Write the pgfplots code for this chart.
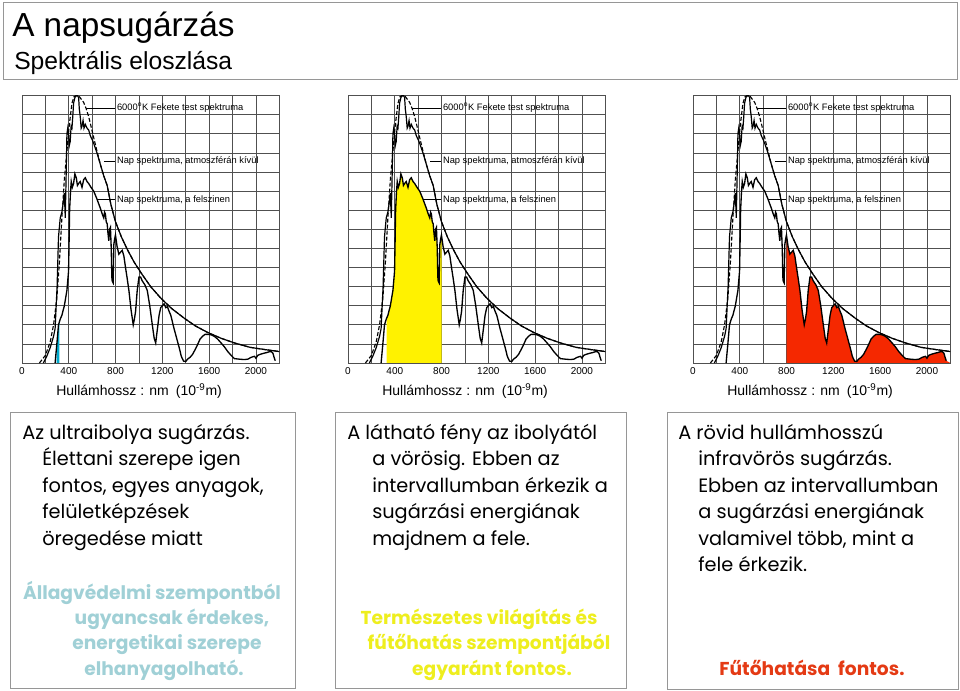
\documentclass[border=0pt]{standalone}
\usepackage{fontspec}
\setmainfont{Liberation Sans}
\newfontfamily\cg{Poppins}
\usepackage{pgfplots}
\pgfplotsset{compat=1.18}
\usepackage{pgfplotstable}
\usepgfplotslibrary{fillbetween}
\definecolor{gridc}{RGB}{80,80,80}
\definecolor{tealc}{RGB}{160,208,214}
\definecolor{yelc}{RGB}{238,238,30}
\definecolor{redc}{RGB}{228,58,20}
\definecolor{fillred}{RGB}{245,40,0}
\definecolor{fillcyan}{RGB}{0,170,205}
\definecolor{boxc}{RGB}{150,150,150}

\pgfplotstableread{
x y
149 0
200 0.4
241 1.1
270 2.0
298 3.4
320 5.3
341 7.6
362 9.6
384 11.1
405 12.5
427 13.6
445 13.95
464 14.0
490 13.95
527 13.65
550 13.3
570 12.9
590 12.4
613 11.8
641 11.1
670 10.4
699 9.8
728 9.3
760 8.3
799 7.4
850 6.6
900 5.95
957 5.3
1020 4.7
1100 4.0
1186 3.4
1280 2.85
1386 2.35
1480 1.95
1587 1.6
1700 1.3
1816 1.05
1950 0.82
2080 0.7
2200 0.6
}\bb

\pgfplotstableread{
x y
183 0
215 0.4
241 0.8
270 1.4
283 1.8
300 4.0
312 6.6
327 7.6
341 7.9
355 8.5
362 8.9
370 7.6
378 10.0
384 12.0
391 12.3
398 12.0
405 11.4
412 11.6
420 12.4
427 12.3
434 12.9
441 13.6
452 13.9
464 14.0
475 14.0
484 13.9
490 13.3
498 12.9
506 12.3
513 12.4
522 12.7
530 12.3
541 12.5
556 12.3
570 12.2
584 11.9
600 11.7
613 11.5
641 11.0
670 10.4
699 9.8
728 9.3
760 8.3
799 7.4
850 6.6
900 5.95
957 5.3
1020 4.7
1100 4.0
1186 3.4
1280 2.85
1386 2.35
1480 1.95
1587 1.6
1700 1.3
1816 1.05
1950 0.82
2080 0.7
2200 0.6
}\outside

\pgfplotstableread{
x y
283 0
298 1.0
312 2.0
327 2.3
341 2.5
362 3.0
384 3.8
398 4.8
403 6.5
407 8.0
414 8.9
421 9.5
430 9.2
441 9.4
452 9.9
464 9.7
474 9.3
484 9.4
498 9.5
513 9.2
527 9.6
541 9.7
556 9.5
570 9.4
590 9.2
613 9.0
640 8.6
670 8.1
686 7.8
699 7.6
706 7.9
713 7.8
720 7.4
728 7.3
735 6.8
742 6.4
749 7.0
756 7.1
763 6.0
768 4.5
771 4.3
779 4.2
785 6.2
792 6.5
799 6.7
813 6.1
828 5.7
842 5.8
857 5.9
871 5.6
885 5.0
900 4.4
914 3.8
932 2.8
951 2.0
961 2.3
971 2.7
985 3.8
1000 4.5
1014 4.5
1028 4.3
1050 4.1
1071 3.8
1092 3.0
1114 2.0
1130 1.3
1143 1.05
1158 1.8
1172 2.5
1186 2.9
1200 3.0
1215 3.1
1229 2.9
1243 2.95
1258 2.7
1272 2.5
1300 1.8
1322 1.3
1344 0.8
1362 0.35
1381 0.1
1400 0.08
1415 0.2
1437 0.3
1458 0.45
1480 0.7
1501 0.96
1522 1.25
1544 1.4
1565 1.5
1587 1.5
1615 1.48
1644 1.4
1673 1.25
1702 1.05
1730 0.85
1759 0.6
1788 0.4
1816 0.23
1860 0.2
1900 0.18
1931 0.2
1960 0.3
1988 0.35
2000 0.25
2015 0.4
2031 0.44
2050 0.48
2074 0.52
2095 0.55
2118 0.6
2135 0.58
2146 0.5
2155 0.3
2165 0.12
}\surf

\pgfplotsset{
  spec/.style={
    scale only axis, width=193pt, height=200.5pt,
    xmin=0, xmax=2200, ymin=0, ymax=14,
    xtick={0,400,...,2000}, minor xtick={200,600,...,2200},
    ytick={0,1,...,14}, yticklabels={},
    grid=both,
    major grid style={gridc, line width=0.6pt},
    minor grid style={gridc, line width=0.6pt},
    major tick length=0pt, minor tick length=0pt,
    axis line style={gridc, line width=0.65pt},
    /pgf/number format/1000 sep={},
    /pgf/number format/assume math mode=true,
    xticklabel style={font=\fontsize{7.5}{8}\selectfont, inner sep=1pt, yshift=-2pt},
    clip=false,
  },
}
\tikzset{ann/.style={font=\fontsize{7}{8}\selectfont, anchor=west, inner sep=0pt}}

\newcommand{\curves}{%
  \addplot[black, line width=0.85pt, dash pattern=on 3pt off 1.5pt] table {\bb};
  \addplot[black, line width=0.9pt] table {\outside};
  \addplot[black, line width=1pt] table {\surf};
  \draw[black, line width=0.5pt] (axis cs:550,13.36) -- (axis cs:795,13.36);
  \node[ann] at (axis cs:810,13.36) {6000\textsuperscript{o}K Fekete test spektruma};
  \draw[black, line width=0.5pt] (axis cs:699,10.56) -- (axis cs:795,10.56);
  \node[ann] at (axis cs:810,10.56) {Nap spektruma, atmoszférán kívül};
  \draw[black, line width=0.5pt] (axis cs:642,8.55) -- (axis cs:795,8.55);
  \node[ann] at (axis cs:810,8.55) {Nap spektruma, a felszinen};
  \node[font=\fontsize{10.5}{12}\selectfont, inner sep=0pt] at (axis description cs:0.455,-0.104) {Hullámhossz : nm\enspace(10\textsuperscript{-9}m)};
}

\begin{document}
\begin{tikzpicture}
\begin{scope}[x=0.75pt,y=-0.75pt]
\useasboundingbox (0,0) rectangle (960,691);
\draw[boxc, line width=0.75pt] (3,3) rectangle (957,80);
\node[anchor=base west, inner sep=0pt, font=\fontsize{25}{28}\selectfont] at (12,37) {A napsugárzás};
\node[anchor=base west, inner sep=0pt, font=\fontsize{18.5}{21}\selectfont] at (14,70) {Spektrális eloszlása};
\end{scope}

% chart 1
\begin{axis}[spec, at={(16.5pt,-272.25pt)}, anchor=south west]
  \addplot[draw=none, name path=surfp, forget plot] table {\surf};
  \addplot[draw=none, name path=base, forget plot] coordinates {(0,0) (2200,0)};
  \addplot[fillcyan, draw=none] fill between[of=surfp and base, soft clip={domain=296:320}];
  \curves
\end{axis}

% chart 2
\begin{axis}[spec, at={(261pt,-272.25pt)}, anchor=south west]
  \addplot[draw=none, name path=surfp, forget plot] table {\surf};
  \addplot[draw=none, name path=base, forget plot] coordinates {(0,0) (2200,0)};
  \addplot[yellow, draw=none] fill between[of=surfp and base, soft clip={domain=330:800}];
  \curves
\end{axis}

% chart 3
\begin{axis}[spec, at={(519.75pt,-272.25pt)}, anchor=south west]
  \addplot[draw=none, name path=surfp, forget plot] table {\surf};
  \addplot[draw=none, name path=base, forget plot] coordinates {(0,0) (2200,0)};
  \addplot[fillred, draw=none] fill between[of=surfp and base, soft clip={domain=800:2200}];
  \curves
\end{axis}

\begin{scope}[x=0.75pt,y=-0.75pt]
\draw[boxc, line width=0.75pt] (10,412) rectangle (295,688);
\draw[boxc, line width=0.75pt] (335,412) rectangle (626,688);
\draw[boxc, line width=0.75pt] (667,412) rectangle (958,689);

\tikzset{bt/.style={anchor=base west, inner sep=0pt, font=\cg\fontsize{14.5}{16}\selectfont},
         bc/.style={anchor=base, inner sep=0pt, font=\cg\bfseries\fontsize{14}{16}\selectfont}}

\node[bt] at (22,439) {Az ultraibolya sugárzás.};
\node[bt] at (42,465) {Élettani szerepe igen};
\node[bt] at (42,492) {fontos, egyes anyagok,};
\node[bt] at (42,518) {felületképzések};
\node[bt] at (42,545) {öregedése miatt};
\node[bc, text=tealc] at (152,599) {Állagvédelmi szempontból};
\node[bc, text=tealc] at (172,624) {ugyancsak érdekes,};
\node[bc, text=tealc] at (167,649) {energetikai szerepe};
\node[bc, text=tealc] at (164,675) {elhanyagolható.};

\node[bt] at (347,439) {A látható fény az ibolyától};
\node[bt] at (372,465) {a vörösig. Ebben az};
\node[bt] at (372,492) {intervallumban érkezik a};
\node[bt] at (372,518) {sugárzási energiának};
\node[bt] at (372,545) {majdnem a fele.};
\node[bc, text=yelc] at (479,624) {Természetes világítás és};
\node[bc, text=yelc] at (489,649) {fűtőhatás szempontjából};
\node[bc, text=yelc] at (492,675) {egyaránt fontos.};

\node[bt] at (678,439) {A rövid hullámhosszú};
\node[bt] at (698,465) {infravörös sugárzás.};
\node[bt] at (698,492) {Ebben az intervallumban};
\node[bt] at (698,518) {a sugárzási energiának};
\node[bt] at (698,545) {valamivel több, mint a};
\node[bt] at (698,571) {fele érkezik.};
\node[bc, text=redc] at (812,675) {Fűtőhatása\ \ fontos.};
\end{scope}
\end{tikzpicture}
\end{document}
